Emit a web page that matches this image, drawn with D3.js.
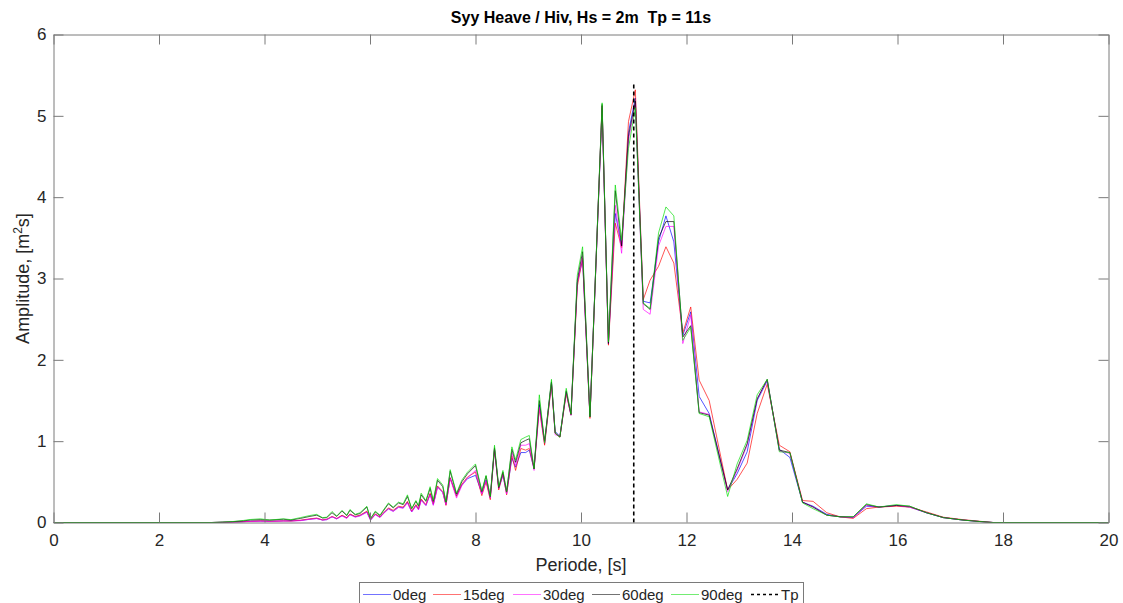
<!DOCTYPE html>
<html>
<head>
<meta charset="utf-8">
<script src="https://cdn.jsdelivr.net/npm/d3@7"></script>
<style>
  html, body { margin: 0; padding: 0; background: #fff; }
  svg { display: block; font-family: "Liberation Sans", Arial, sans-serif; }
</style>
</head>
<body>
<svg id="chart" width="1123" height="603"></svg>
<script>
// Period axis (s), shared by every heading
const period = [
  0, 3.0, 3.2, 3.4, 3.6, 3.73, 3.92, 4.1, 4.36, 4.5, 4.68, 4.86, 4.99, 5.1, 5.18, 5.28, 5.37, 5.47, 5.56, 5.62,
  5.72, 5.81, 5.94, 6.01, 6.10, 6.19, 6.25, 6.35, 6.44, 6.54, 6.63, 6.71, 6.79, 6.87, 6.92, 6.97, 7.06, 7.14, 7.20,
  7.28, 7.38, 7.44, 7.52, 7.64, 7.74, 7.85, 8.00, 8.12, 8.20, 8.28, 8.36, 8.44, 8.52, 8.59, 8.69, 8.76, 8.86, 8.95,
  9.02, 9.11, 9.21, 9.31, 9.44, 9.51, 9.60, 9.72, 9.81, 9.93, 10.03, 10.17, 10.40, 10.52, 10.65, 10.77, 10.90, 11.03,
  11.18, 11.31, 11.47, 11.61, 11.76, 11.93, 12.08, 12.24, 12.43, 12.78, 12.96, 13.15, 13.34, 13.53, 13.76, 13.96,
  14.20, 14.40, 14.66, 14.91, 15.16, 15.41, 15.65, 15.98, 16.23, 16.55, 16.87, 17.24, 17.56, 17.81, 20
];

// Spectral amplitude [m^2 s] per wave heading
const deg0 = [
  0, 0, 0.002, 0.005, 0.01, 0.015, 0.018, 0.015, 0.02, 0.02, 0.025, 0.04, 0.05, 0.03, 0.035, 0.07, 0.045, 0.085, 0.055, 0.10,
  0.07, 0.085, 0.13, 0.03, 0.10, 0.065, 0.11, 0.17, 0.14, 0.19, 0.18, 0.25, 0.13, 0.21, 0.16, 0.28, 0.21, 0.35, 0.22,
  0.44, 0.37, 0.22, 0.55, 0.33, 0.46, 0.54, 0.58, 0.36, 0.52, 0.30, 0.90, 0.42, 0.58, 0.36, 0.79, 0.68, 0.86, 0.86,
  0.89, 0.66, 1.45, 0.97, 1.72, 1.12, 1.06, 1.60, 1.32, 2.95, 3.23, 1.30, 5.10, 2.20, 3.80, 3.40, 4.80, 5.22,
  2.72, 2.70, 3.45, 3.77, 3.45, 2.30, 2.59, 1.55, 1.34, 0.40, 0.60, 0.87, 1.50, 1.74, 0.90, 0.80,
  0.25, 0.20, 0.10, 0.07, 0.06, 0.20, 0.19, 0.21, 0.19, 0.12, 0.06, 0.03, 0.012, 0, 0
];
const deg15 = [
  0, 0, 0.002, 0.005, 0.01, 0.014, 0.02, 0.015, 0.02, 0.018, 0.028, 0.045, 0.055, 0.032, 0.04, 0.075, 0.05, 0.09, 0.06, 0.105,
  0.075, 0.09, 0.14, 0.035, 0.105, 0.07, 0.115, 0.18, 0.15, 0.20, 0.19, 0.26, 0.14, 0.22, 0.17, 0.29, 0.22, 0.36, 0.23,
  0.45, 0.38, 0.21, 0.55, 0.32, 0.47, 0.56, 0.62, 0.33, 0.50, 0.28, 0.90, 0.40, 0.60, 0.34, 0.82, 0.64, 0.91, 0.89,
  0.91, 0.66, 1.40, 0.95, 1.70, 1.10, 1.05, 1.58, 1.32, 2.90, 3.25, 1.28, 5.12, 2.18, 3.68, 3.38, 4.93, 5.32,
  2.74, 2.98, 3.15, 3.39, 3.19, 2.33, 2.65, 1.75, 1.50, 0.40, 0.53, 0.73, 1.34, 1.70, 0.95, 0.87,
  0.27, 0.26, 0.12, 0.07, 0.05, 0.17, 0.19, 0.20, 0.19, 0.13, 0.065, 0.035, 0.015, 0, 0
];
const deg30 = [
  0, 0, 0.002, 0.004, 0.01, 0.012, 0.016, 0.014, 0.018, 0.02, 0.022, 0.04, 0.048, 0.03, 0.035, 0.07, 0.045, 0.08, 0.05, 0.095,
  0.065, 0.08, 0.125, 0.03, 0.095, 0.06, 0.105, 0.165, 0.135, 0.185, 0.175, 0.24, 0.13, 0.20, 0.155, 0.27, 0.21, 0.34, 0.21,
  0.43, 0.37, 0.22, 0.54, 0.30, 0.45, 0.55, 0.64, 0.35, 0.52, 0.30, 0.91, 0.42, 0.60, 0.35, 0.86, 0.70, 0.95, 0.95,
  0.97, 0.64, 1.42, 0.98, 1.72, 1.08, 1.06, 1.60, 1.32, 2.94, 3.28, 1.30, 5.12, 2.20, 3.90, 3.31, 4.70, 5.15,
  2.62, 2.56, 3.40, 3.64, 3.64, 2.20, 2.55, 1.36, 1.33, 0.38, 0.64, 0.95, 1.52, 1.75, 0.88, 0.85,
  0.25, 0.19, 0.09, 0.07, 0.06, 0.21, 0.19, 0.21, 0.19, 0.12, 0.06, 0.03, 0.012, 0, 0
];
const deg60 = [
  0, 0, 0.004, 0.010, 0.02, 0.03, 0.035, 0.03, 0.04, 0.03, 0.05, 0.075, 0.09, 0.055, 0.06, 0.12, 0.075, 0.14, 0.085, 0.15,
  0.095, 0.11, 0.19, 0.05, 0.13, 0.085, 0.14, 0.23, 0.18, 0.24, 0.22, 0.32, 0.17, 0.26, 0.20, 0.34, 0.26, 0.42, 0.26,
  0.52, 0.44, 0.25, 0.63, 0.35, 0.50, 0.60, 0.70, 0.38, 0.57, 0.32, 0.92, 0.43, 0.62, 0.38, 0.90, 0.74, 0.98, 1.01,
  1.03, 0.66, 1.50, 1.00, 1.73, 1.10, 1.05, 1.62, 1.33, 2.98, 3.33, 1.30, 5.14, 2.20, 4.08, 3.40, 4.75, 5.18,
  2.69, 2.62, 3.50, 3.70, 3.70, 2.28, 2.42, 1.35, 1.32, 0.40, 0.66, 0.97, 1.52, 1.76, 0.89, 0.86,
  0.25, 0.19, 0.09, 0.07, 0.07, 0.22, 0.19, 0.21, 0.20, 0.12, 0.06, 0.03, 0.012, 0, 0
];
const deg90 = [
  0, 0, 0.005, 0.012, 0.025, 0.037, 0.045, 0.03, 0.045, 0.035, 0.06, 0.086, 0.10, 0.06, 0.065, 0.135, 0.08, 0.15, 0.09, 0.16,
  0.10, 0.12, 0.20, 0.045, 0.14, 0.09, 0.15, 0.24, 0.19, 0.25, 0.23, 0.34, 0.17, 0.27, 0.21, 0.36, 0.27, 0.44, 0.27,
  0.54, 0.46, 0.25, 0.65, 0.36, 0.52, 0.62, 0.72, 0.39, 0.58, 0.32, 0.95, 0.44, 0.64, 0.38, 0.93, 0.77, 1.02, 1.05,
  1.07, 0.66, 1.57, 0.98, 1.76, 1.10, 1.05, 1.65, 1.33, 3.04, 3.39, 1.30, 5.16, 2.22, 4.15, 3.47, 4.60, 5.10,
  2.70, 2.63, 3.56, 3.88, 3.77, 2.24, 2.40, 1.34, 1.30, 0.32, 0.72, 1.01, 1.57, 1.76, 0.87, 0.86,
  0.24, 0.17, 0.09, 0.07, 0.07, 0.23, 0.19, 0.22, 0.20, 0.12, 0.06, 0.03, 0.012, 0, 0
];

const seriesNames = ["0deg", "15deg", "30deg", "60deg", "90deg"];
const seriesValues = [deg0, deg15, deg30, deg60, deg90];
const seriesColors = ["#0000ff", "#ff0000", "#ff00ff", "#000000", "#00dd00"];

// Peak period marker
const tpPeriod = 11;
const tpTop = 5.4;

const xTicks = [0, 2, 4, 6, 8, 10, 12, 14, 16, 18, 20];
const yTicks = [0, 1, 2, 3, 4, 5, 6];

const titleText = "Syy Heave / Hiv, Hs = 2m  Tp = 11s";
const xLabelText = "Periode, [s]";

const svg = d3.select("#chart");
const box = { left: 53.5, right: 1108.5, top: 34.5, bottom: 522.5 };

const x = d3.scaleLinear().domain([0, 20]).range([box.left, box.right]);
const y = d3.scaleLinear().domain([0, 6]).range([box.bottom, box.top]);

const axisColor = "#7a7a7a";
const textColor = "#262626";
const tickLen = 10;

// Plot clip
svg.append("clipPath").attr("id", "plotClip")
  .append("rect").attr("x", box.left).attr("y", box.top - 1)
  .attr("width", box.right - box.left).attr("height", box.bottom - box.top + 2);

// Data lines
const line = d3.line().x((d, i) => x(period[i])).y(d => y(d));
const plot = svg.append("g").attr("clip-path", "url(#plotClip)");
seriesValues.forEach((vals, k) => {
  plot.append("path")
    .datum(vals)
    .attr("d", line)
    .attr("fill", "none")
    .attr("stroke", seriesColors[k])
    .attr("stroke-opacity", 0.75)
    .attr("stroke-width", 0.9)
    .attr("stroke-linejoin", "round");
});

// Tp marker line
plot.append("line")
  .attr("x1", x(tpPeriod)).attr("x2", x(tpPeriod))
  .attr("y1", y(0)).attr("y2", y(tpTop))
  .attr("stroke", "#000").attr("stroke-width", 1.6)
  .attr("stroke-dasharray", "4,3");

// Axes: bottom/left with labels, top/right mirrored ticks
const axisBottom = d3.axisBottom(x).tickValues(xTicks).tickFormat(d3.format("d")).tickSizeInner(-tickLen).tickSizeOuter(0).tickPadding(11);
const axisTop = d3.axisTop(x).tickValues(xTicks).tickFormat("").tickSizeInner(-tickLen).tickSizeOuter(0);
const axisLeft = d3.axisLeft(y).tickValues(yTicks).tickFormat(d3.format("d")).tickSizeInner(-tickLen).tickSizeOuter(0).tickPadding(7);
const axisRight = d3.axisRight(y).tickValues(yTicks).tickFormat("").tickSizeInner(-tickLen).tickSizeOuter(0);

function styleAxis(g) {
  g.select(".domain").attr("stroke", axisColor).attr("stroke-width", 1);
  g.selectAll(".tick line").attr("stroke", axisColor).attr("stroke-width", 1);
  g.selectAll(".tick text").attr("fill", textColor).style("font-size", "17px")
    .style("font-family", "'Liberation Sans', Arial, sans-serif");
}

svg.append("g").attr("transform", `translate(0,${box.bottom})`).call(axisBottom).call(styleAxis);
svg.append("g").attr("transform", `translate(0,${box.top})`).call(axisTop).call(styleAxis);
svg.append("g").attr("transform", `translate(${box.left},0)`).call(axisLeft).call(styleAxis);
svg.append("g").attr("transform", `translate(${box.right},0)`).call(axisRight).call(styleAxis);

// Title and axis labels
svg.append("text")
  .attr("x", (box.left + box.right) / 2).attr("y", 23)
  .attr("text-anchor", "middle")
  .attr("fill", "#000")
  .style("white-space", "pre")
  .style("font-size", "16px").style("font-weight", "bold")
  .text(titleText);

svg.append("text")
  .attr("x", (box.left + box.right) / 2).attr("y", 571)
  .attr("text-anchor", "middle")
  .attr("fill", textColor)
  .style("font-size", "18px")
  .text(xLabelText);

const yLab = svg.append("text")
  .attr("transform", `translate(29,${(box.top + box.bottom) / 2}) rotate(-90)`)
  .attr("text-anchor", "middle")
  .attr("fill", textColor)
  .style("font-size", "18px");
yLab.append("tspan").text("Amplitude, [m");
yLab.append("tspan").attr("baseline-shift", "super").style("font-size", "12px").text("2");
yLab.append("tspan").text("s]");

// Legend
const legend = svg.append("g");
const legX = 359.5, legY = 582.5, legW = 444, legH = 26;
legend.append("rect")
  .attr("x", legX).attr("y", legY).attr("width", legW).attr("height", legH)
  .attr("fill", "#fff").attr("stroke", axisColor).attr("stroke-width", 1);

const legendItems = seriesNames.map((n, k) => ({ name: n, color: seriesColors[k], dash: null }))
  .concat([{ name: "Tp", color: "#000", dash: "3,3" }]);
const itemStarts = [363, 433, 513, 592, 671, 751];
const lineLen = 28;
legendItems.forEach((it, k) => {
  const x0 = itemStarts[k];
  legend.append("line")
    .attr("x1", x0).attr("x2", x0 + lineLen)
    .attr("y1", 594.5).attr("y2", 594.5)
    .attr("stroke", it.color)
    .attr("stroke-opacity", it.dash ? 1 : 0.55)
    .attr("stroke-width", it.dash ? 1.4 : 1)
    .attr("stroke-dasharray", it.dash);
  legend.append("text")
    .attr("x", x0 + lineLen + 2)
    .attr("y", 600)
    .attr("fill", textColor)
    .style("font-size", "15px")
    .text(it.name);
});
</script>
</body>
</html>
